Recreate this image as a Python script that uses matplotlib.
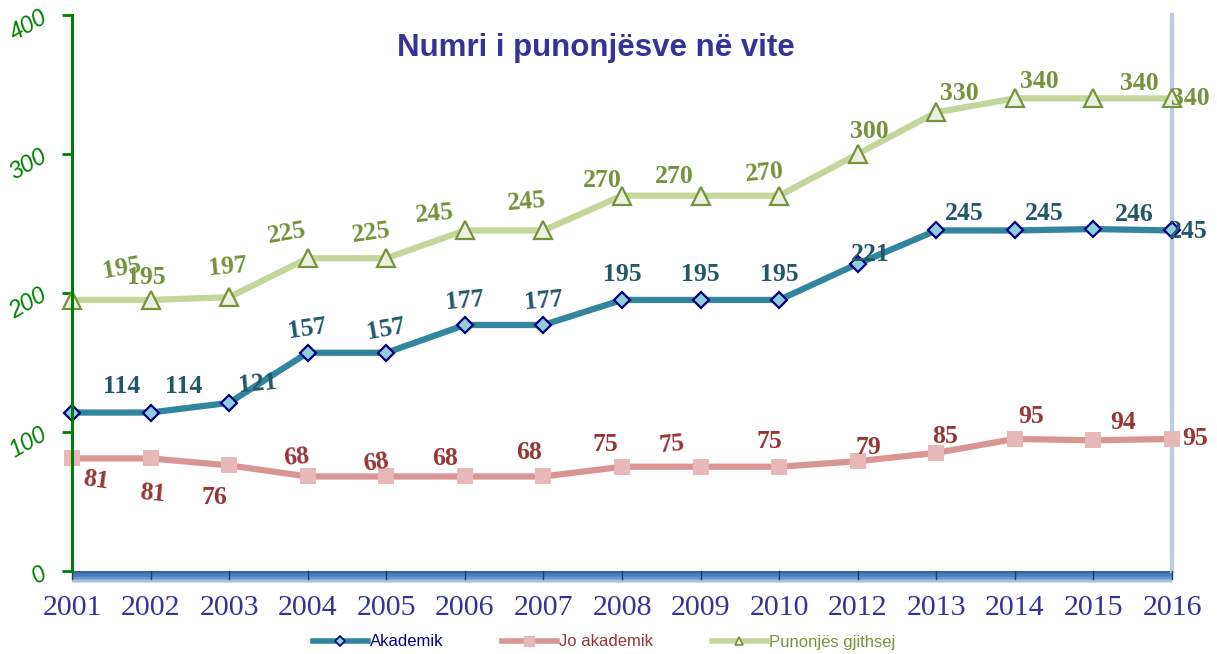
import matplotlib
matplotlib.use("Agg")
import matplotlib.pyplot as plt
from matplotlib.patches import Rectangle
from matplotlib.lines import Line2D

years = ["2001", "2002", "2003", "2004", "2005", "2006", "2007", "2008",
         "2009", "2010", "2012", "2013", "2014", "2015", "2016"]
akademik = [114, 114, 121, 157, 157, 177, 177, 195, 195, 195, 221, 245, 245, 246, 245]
jo_akademik = [81, 81, 76, 68, 68, 68, 68, 75, 75, 75, 79, 85, 95, 94, 95]
gjithsej = [195, 195, 197, 225, 225, 245, 245, 270, 270, 270, 300, 330, 340, 340, 340]
y_ticks = [0, 100, 200, 300, 400]

title = "Numri i punonjësve në vite"
names = ["Akademik", "Jo akademik", "Punonjës gjithsej"]

# label offsets (pixels) and rotations
off_ak = [(50, 26), (33, 26), (29, 19), (0, 24), (0, 24), (0, 24), (0, 24), (0, 25),
          (0, 25), (0, 25), (13, 9), (28, 17), (29, 17), (41, 15), (16, -1)]
rot_ak = [0, 0, 5, 8, 10, 5, 5, 0, 0, 0, 0, 0, 0, 0, 0]
off_jo = [(24, -22), (2, -35), (-15, -32), (-11, 19), (-10, 14), (-20, 18), (-14, 24), (-17, 22),
          (-29, 22), (-10, 25), (11, 14), (9, 16), (16, 22), (30, 18), (23, 0)]
rot_jo = [-8, -5, 0, 5, 8, 0, 0, 0, 5, 0, 0, 0, 0, 0, 0]
off_gj = [(50, 32), (-4, 22), (-1, 30), (-21, 25), (-15, 25), (-30, 17), (-17, 29), (-20, 15),
          (-26, 19), (-15, 23), (12, 23), (23, 19), (24, 17), (46, 15), (18, 0)]
rot_gj = [10, 0, 5, 10, 8, 5, 5, 0, 0, 5, 0, 0, 0, 0, 0]

fig = plt.figure(figsize=(12.17, 6.54), dpi=100)
ax = fig.add_axes([72 / 1217, 83 / 654, 1100 / 1217, 556 / 654])
x = list(range(len(years)))

c_ak_line, c_ak_face, c_ak_edge, c_ak_txt = "#31859C", "#92CDDC", "#000080", "#215868"
c_jo_line, c_jo_face, c_jo_txt = "#D99594", "#E6B9B8", "#953735"
c_gj_line, c_gj_face, c_gj_edge, c_gj_txt = "#C3D69B", "#EBF1DE", "#76923C", "#76923C"

ax.plot(x, gjithsej, color=c_gj_line, lw=4.5, marker="^", ms=13, mfc=c_gj_face,
        mec=c_gj_edge, mew=1.6, clip_on=False, zorder=3)
ax.plot(x, akademik, color=c_ak_line, lw=4.5, marker="D", ms=8, mfc=c_ak_face,
        mec=c_ak_edge, mew=1.6, clip_on=False, zorder=4)
ax.plot(x, jo_akademik, color=c_jo_line, lw=4.5, marker="s", ms=12, mfc=c_jo_face,
        mec=c_jo_face, mew=0, clip_on=False, zorder=3)

lab_font = dict(family="Liberation Serif", fontweight="bold", fontsize=18.5)
for vals, offs, rots, col in [(akademik, off_ak, rot_ak, c_ak_txt),
                              (jo_akademik, off_jo, rot_jo, c_jo_txt),
                              (gjithsej, off_gj, rot_gj, c_gj_txt)]:
    for i, v in enumerate(vals):
        ax.annotate(str(v), (i, v), xytext=offs[i], textcoords="offset pixels",
                    ha="center", va="center", color=col, rotation=rots[i],
                    zorder=6, annotation_clip=False, **lab_font)

ax.set_xlim(0, len(years) - 1)
ax.set_ylim(0, 400)
ax.set_yticks(y_ticks)
ax.set_yticklabels([str(t) for t in y_ticks], rotation=30, fontstyle="italic",
                   color="#008000", fontsize=17, family="Liberation Sans")
ax.tick_params(axis="y", direction="out", length=7, width=2, color="#008000", pad=8)
ax.set_xticks(x)
ax.set_xticklabels(years, family="Liberation Serif", fontsize=21.5, color="#333399")
ax.tick_params(axis="x", length=0, pad=17)

for s in ["top", "bottom"]:
    ax.spines[s].set_visible(False)
ax.spines["left"].set_color("#008000")
ax.spines["left"].set_linewidth(2.2)
ax.spines["left"].set_zorder(5)
ax.spines["right"].set_color("#B9CDE5")
ax.spines["right"].set_linewidth(3)

# 3D floor band
band_h = 12 / 556
shades = ["#3565A0", "#3F72AF", "#4A7DBA", "#5687C0", "#6A96C9", "#86AAD3", "#A9C2E0", "#D0DDEE"]
n = len(shades)
for k, c in enumerate(shades):
    ax.add_patch(Rectangle((0, -band_h * (k + 1) / n), 1, band_h / n,
                           transform=ax.transAxes, color=c, clip_on=False, zorder=2, lw=0))
for xi in x:
    ax.add_line(Line2D([xi, xi], [0, -band_h * 400 * 0.7], color="#1F3F6A", lw=1,
                       clip_on=False, zorder=3))

fig.text(596 / 1217, 1 - 48 / 654, title, fontsize=22.5, fontweight="bold", color="#333399",
         family="Liberation Sans", ha="center", va="center")

handles = [
    Line2D([], [], color=c_ak_line, lw=4, marker="D", ms=5, mfc=c_ak_face, mec=c_ak_edge, mew=1.2),
    Line2D([], [], color=c_jo_line, lw=4, marker="s", ms=7, mfc=c_jo_face, mec=c_jo_face),
    Line2D([], [], color=c_gj_line, lw=4, marker="^", ms=6, mfc=c_gj_face, mec=c_gj_edge, mew=1.2),
]
leg = fig.legend(handles, names, loc="center", bbox_to_anchor=(604 / 1217, 12 / 654), ncol=3,
                 frameon=False, columnspacing=3.5, handlelength=3.3,
                 handletextpad=0.15, prop={"family": "Liberation Sans", "size": 12})
for t, c in zip(leg.get_texts(), ["#000080", "#953735", "#76923C"]):
    t.set_color(c)

fig.savefig("out.png", dpi=100)
